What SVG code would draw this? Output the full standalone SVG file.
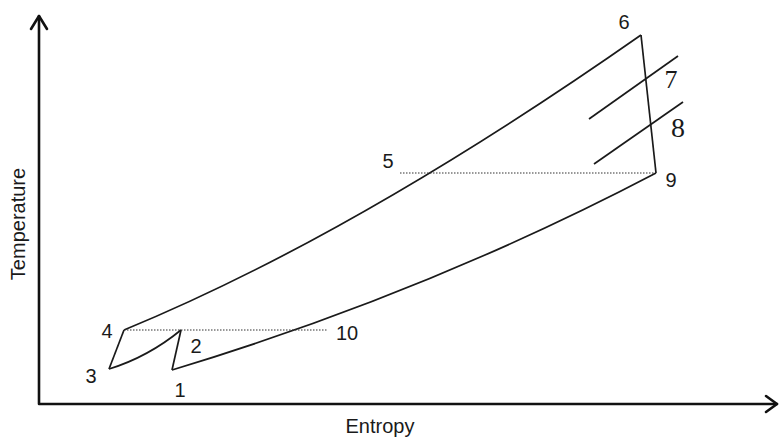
<svg xmlns="http://www.w3.org/2000/svg" width="779" height="440" viewBox="0 0 779 440">
<style>
.ax{fill:none;stroke:#111;stroke-width:2.6;stroke-linecap:round;stroke-linejoin:round}
.ln{fill:none;stroke:#1a1a1a;stroke-width:1.7;stroke-linejoin:miter}
.dot{fill:none;stroke:#333;stroke-width:1.1;stroke-dasharray:1.5 1.5}
.s{font-family:"Liberation Sans",Arial,sans-serif;font-size:20px;fill:#1a1a1a;text-anchor:middle}
.t{font-family:"Liberation Serif","Times New Roman",serif;fill:#1a1a1a;text-anchor:middle}
</style>
<rect width="779" height="440" fill="#fff"/>
<g id="axes">
<path class="ax" d="M39,16 L39,404 L777,404"/>
<path class="ax" d="M31,29 L39,16 L47,29"/>
<path class="ax" d="M766,396 L777,404 L766,412"/>
<text class="s" x="380" y="433">Entropy</text>
<text class="s" transform="translate(25,224) rotate(-90)">Temperature</text>
</g>
<g id="connectors">
<path id="c3-4" class="ln" d="M109,369 L124,330"/>
<path id="c4-6" class="ln" d="M124,330 Q355,235 641,35"/>
<path id="c6-9" class="ln" d="M641,35 L656,173"/>
<path id="c9-1" class="ln" d="M656,173 Q427,293 172,370"/>
<path id="c1-2" class="ln" d="M172,370 L181,330"/>
<path id="c2-3" class="ln" d="M181,330 Q148,357 109,369"/>
<path id="iso7" class="ln" d="M589,119 L678,56"/>
<path id="iso8" class="ln" d="M594,164 L683,102"/>
<path id="d4-10" class="dot" d="M124,330 L328,330"/>
<path id="d5-9" class="dot" d="M400,173 L655,173"/>
</g>
<g id="n1"><text class="s" x="180" y="397">1</text></g>
<g id="n2"><text class="s" x="196" y="353">2</text></g>
<g id="n3"><text class="s" x="91" y="383">3</text></g>
<g id="n4"><text class="s" x="107" y="338">4</text></g>
<g id="n5"><text class="s" x="388" y="168">5</text></g>
<g id="n6"><text class="s" x="624" y="29">6</text></g>
<g id="n7"><text class="t" x="671" y="88" font-size="26">7</text></g>
<g id="n8"><text class="t" x="678" y="137" font-size="28">8</text></g>
<g id="n9"><text class="s" x="671" y="187">9</text></g>
<g id="n10"><text class="s" x="347" y="340">10</text></g>
</svg>
